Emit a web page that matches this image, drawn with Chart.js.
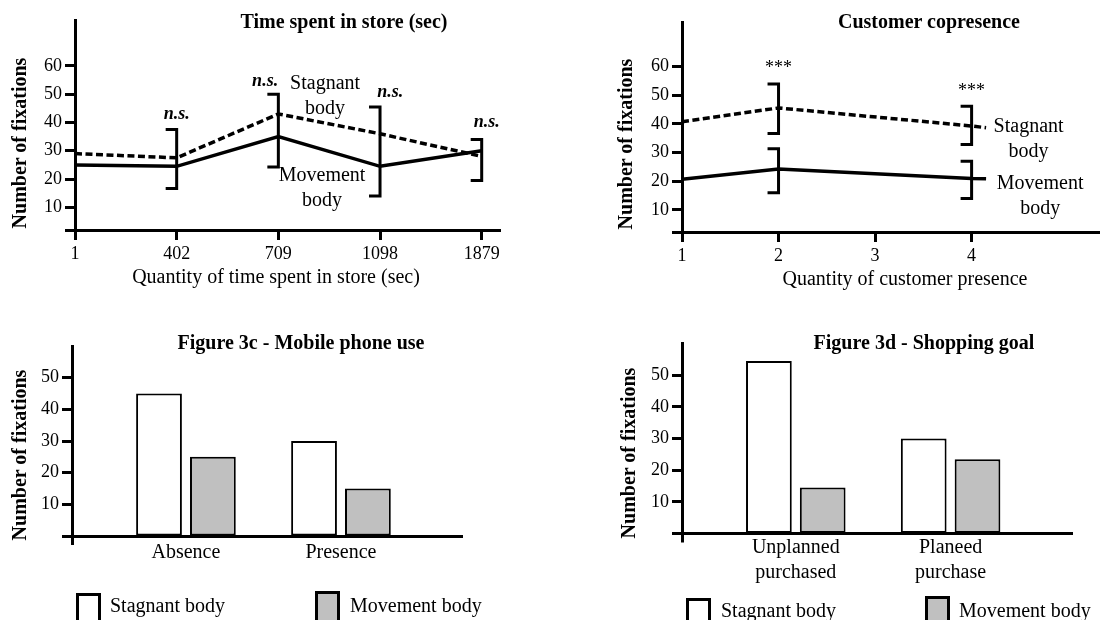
<!DOCTYPE html>
<html>
<head>
<meta charset="utf-8">
<title>Number of fixations</title>
<script src="https://cdn.jsdelivr.net/npm/chart.js@4.4.0/dist/chart.umd.min.js"></script>
<style>
  html, body { margin: 0; padding: 0; background: #fff; }
  body { width: 1100px; height: 620px; position: relative; overflow: hidden;
         font-family: "Liberation Serif", "Times New Roman", serif; color: #000; }
  canvas { position: absolute; }
  .txt { position: absolute; white-space: nowrap; line-height: 1; transform: translate(-50%, -50%); }
  .title { font-weight: bold; font-size: 20px; }
  .ytitle { font-weight: bold; font-size: 20px; transform: translate(-50%, -50%) rotate(-90deg); }
  .xtitle { font-size: 20px; }
  .key { position: absolute; width: 25px; height: 34px; box-sizing: border-box; border: 3px solid #000; }
  .keytxt { position: absolute; font-size: 20px; line-height: 24px; white-space: nowrap; }
</style>
</head>
<body>
<canvas id="timeChart" width="550" height="300" style="left:0;top:0"></canvas>
<canvas id="copresChart" width="550" height="300" style="left:550px;top:0"></canvas>
<canvas id="phoneChart" width="550" height="320" style="left:0;top:300px"></canvas>
<canvas id="goalChart" width="550" height="320" style="left:550px;top:300px"></canvas>

<!-- titles -->
<div class="txt title" style="left:344px;top:21px">Time spent in store (sec)</div>
<div class="txt title" style="left:929px;top:21px">Customer copresence</div>
<div class="txt title" style="left:301px;top:342px">Figure 3c - Mobile phone use</div>
<div class="txt title" style="left:924px;top:342px">Figure 3d - Shopping goal</div>

<!-- axis titles -->
<div class="txt ytitle" style="left:19px;top:143px">Number of fixations</div>
<div class="txt ytitle" style="left:625px;top:144px">Number of fixations</div>
<div class="txt ytitle" style="left:19px;top:455px">Number of fixations</div>
<div class="txt ytitle" style="left:628px;top:453px">Number of fixations</div>
<div class="txt xtitle" style="left:276px;top:276px">Quantity of time spent in store (sec)</div>
<div class="txt xtitle" style="left:905px;top:278px">Quantity of customer presence</div>

<!-- legends of the bar panels -->
<div class="key" style="left:76px;top:593px;background:#fff"></div>
<div class="keytxt" style="left:110px;top:593px">Stagnant body</div>
<div class="key" style="left:315px;top:591px;background:#c0c0c0"></div>
<div class="keytxt" style="left:350px;top:593px">Movement body</div>
<div class="key" style="left:686px;top:598px;background:#fff"></div>
<div class="keytxt" style="left:721px;top:598px">Stagnant body</div>
<div class="key" style="left:925px;top:596px;background:#c0c0c0"></div>
<div class="keytxt" style="left:959px;top:598px">Movement body</div>

<script>
// ---- data ----
const yTicksLine = [10, 20, 30, 40, 50, 60];
const yTicksBar = [10, 20, 30, 40, 50];

// time spent in store
const timeLabels = ['1', '402', '709', '1098', '1879'];
const timeStagnant = [29, 27.5, 43, 36, 28];
const timeMovement = [25, 24.5, 35, 24.5, 30];
const timeBrackets = [[1, 16.7, 37.5], [2, 24.3, 50], [3, 14, 45.5], [4, 19.5, 34]]; // [x, low, high]
const timeSig = [[1, 43, 'n.s.'], [1.87, 54.6, 'n.s.'], [3.1, 50.5, 'n.s.'], [4.05, 40, 'n.s.']];
const timeTags = [[2.46, 53.8, ['Stagnant', 'body']], [2.43, 21.1, ['Movement', 'body']]];

// customer copresence
const copresLabels = ['1', '2', '3', '4'];
const copresX = [1, 2, 4, 4.15];
const copresStagnant = [40.8, 45.6, 39.3, 38.7];
const copresMovement = [20.7, 24.3, 21.0, 20.9];
const copresBrackets = [[2, 36.7, 54], [2, 16, 31.4], [4, 32.8, 46.2], [4, 14, 27]];
const copresSig = [[2, 59.5, '***'], [4, 51.5, '***']];
const copresTags = [[4.59, 39.1, ['Stagnant', 'body']], [4.71, 19.3, ['Movement', 'body']]];

// mobile phone use
const phoneCats = ['Absence', 'Presence'];
const phoneStagnant = [45, 30];
const phoneMovement = [25, 15];

// shopping goal
const goalCats = [['Unplanned', 'purchased'], ['Planeed', 'purchase']];
const goalStagnant = [54.5, 30];
const goalMovement = [14.5, 23.5];

// ---- helpers ----
const black = '#000';
const grey = '#c0c0c0';
const clear = 'rgba(0,0,0,0)';
Chart.defaults.font.family = '"Liberation Serif", "Times New Roman", serif';
Chart.defaults.color = black;

const tickFont = { family: '"Liberation Serif"', size: 18 };

// y axis; the tick at "base" is left unlabeled so the x axis line sticks out left of the y axis
function valueAxis(min, max, base, ticks, width) {
  return {
    type: 'linear', min: min, max: max,
    afterBuildTicks: s => { s.ticks = [base].concat(ticks).map(v => ({ value: v })); },
    afterFit: s => { s.width = width; },
    ticks: { autoSkip: false, font: tickFont, color: black, padding: 3,
             callback: v => (v === base ? '' : String(v)) },
    grid: { drawOnChartArea: false, tickLength: 10, tickWidth: 3, tickColor: black },
    border: { color: black, width: 3 }
  };
}

// brackets, significance marks and the inline series names
const marks = {
  id: 'marks',
  afterDatasetsDraw(chart, args, opts) {
    const { ctx } = chart;
    const x = chart.scales.x, y = chart.scales.y;
    ctx.save();
    ctx.strokeStyle = black;
    ctx.lineWidth = 3;
    ctx.lineJoin = 'miter';
    (opts.brackets || []).forEach(([bx, lo, hi]) => {
      const px = x.getPixelForValue(bx);
      const top = y.getPixelForValue(hi), bot = y.getPixelForValue(lo);
      ctx.beginPath();
      ctx.moveTo(px - 11, top);
      ctx.lineTo(px, top);
      ctx.lineTo(px, bot);
      ctx.lineTo(px - 11, bot);
      ctx.stroke();
    });
    ctx.fillStyle = black;
    ctx.textAlign = 'center';
    ctx.textBaseline = 'middle';
    ctx.font = opts.sigFont;
    (opts.sig || []).forEach(([sx, sy, s]) => {
      ctx.fillText(s, x.getPixelForValue(sx), y.getPixelForValue(sy));
    });
    ctx.font = '20px "Liberation Serif"';
    (opts.tags || []).forEach(([tx, ty, lines]) => {
      lines.forEach((l, i) => ctx.fillText(l, x.getPixelForValue(tx), y.getPixelForValue(ty) + i * 25));
    });
    ctx.restore();
  }
};

const common = {
  responsive: false,
  animation: false,
  devicePixelRatio: 1,
  events: []
};

function lineSet(label, xs, ys, dashed) {
  return {
    label: label,
    data: ys.map((v, i) => ({ x: xs[i], y: v })),
    borderColor: black,
    borderWidth: 3.5,
    borderDash: dashed ? [7, 3.5] : [],
    pointRadius: 0,
    fill: false,
    tension: 0
  };
}

// the x axis also carries an unlabeled tick at its left end, which narrows the
// bar ruler to the distance from the y axis to the first group (~114px)
function barSet(label, ys, fillColor) {
  return {
    label: label,
    data: ys.map((v, i) => ({ x: i + 1, y: v })),
    backgroundColor: fillColor,
    borderColor: black,
    borderWidth: 2,
    borderSkipped: false,
    categoryPercentage: 0.9456,
    barPercentage: 0.85
  };
}

// ---- Time spent in store ----
new Chart(document.getElementById('timeChart'), {
  type: 'line',
  data: {
    datasets: [
      lineSet('Stagnant body', timeLabels.map((_, i) => i), timeStagnant, true),
      lineSet('Movement body', timeLabels.map((_, i) => i), timeMovement, false)
    ]
  },
  options: Object.assign({}, common, {
    layout: { padding: { left: 0, top: 20, right: 50, bottom: 0 } },
    scales: {
      x: {
        type: 'linear', min: 0, max: 4.18, offset: false,
        afterBuildTicks: s => { s.ticks = timeLabels.map((_, i) => ({ value: i })); },
        afterFit: s => { s.height = 70; },
        ticks: { autoSkip: false, maxRotation: 0, font: tickFont, color: black, padding: 3,
                 callback: (v, i) => timeLabels[i] },
        grid: { drawOnChartArea: false, tickLength: 10, tickWidth: 3, tickColor: black },
        border: { color: black, width: 3 }
      },
      y: valueAxis(2, 76.2, 2, yTicksLine, 75)
    },
    plugins: {
      legend: { display: false },
      tooltip: { enabled: false },
      marks: { brackets: timeBrackets, sig: timeSig, tags: timeTags,
               sigFont: 'italic bold 18px "Liberation Serif"' }
    }
  }),
  plugins: [marks]
});

// ---- Customer copresence ----
new Chart(document.getElementById('copresChart'), {
  type: 'line',
  data: {
    datasets: [
      lineSet('Stagnant body', copresX, copresStagnant, true),
      lineSet('Movement body', copresX, copresMovement, false)
    ]
  },
  options: Object.assign({}, common, {
    layout: { padding: { left: 0, top: 22, right: 0, bottom: 0 } },
    scales: {
      x: {
        type: 'linear', min: 1, max: 5.33, offset: false,
        afterBuildTicks: s => { s.ticks = copresLabels.map(l => ({ value: Number(l) })); },
        afterFit: s => { s.height = 68; },
        ticks: { autoSkip: false, maxRotation: 0, font: tickFont, color: black, padding: 3,
                 callback: (v, i) => copresLabels[i] },
        grid: { drawOnChartArea: false, tickLength: 10, tickWidth: 3, tickColor: black },
        border: { color: black, width: 3 }
      },
      y: valueAxis(2.3, 75.6, 2.3, yTicksLine, 132)
    },
    plugins: {
      legend: { display: false },
      tooltip: { enabled: false },
      marks: { brackets: copresBrackets, sig: copresSig, tags: copresTags,
               sigFont: '18px "Liberation Serif"' }
    }
  }),
  plugins: [marks]
});

// bar panels share the same x layout; only the first (unlabeled) tick gets a mark,
// which is the stub of the y axis below the x axis
function catAxis(cats, height, pad) {
  const min = 0.265;
  return {
    type: 'linear', min: min, max: 2.784, offset: false, z: 1,
    afterBuildTicks: s => { s.ticks = [min].concat(cats.map((_, i) => i + 1)).map(v => ({ value: v })); },
    afterFit: s => { s.height = height; },
    ticks: { autoSkip: false, maxRotation: 0, padding: pad, color: black,
             font: { family: '"Liberation Serif"', size: 20, lineHeight: 1.22 },
             callback: (v, i) => (i === 0 ? '' : cats[i - 1]) },
    grid: { drawOnChartArea: false, drawTicks: true, tickLength: 9, tickWidth: 3, offset: false,
            tickColor: c => (c.index === 0 ? black : clear) },
    border: { color: black, width: 3 }
  };
}

// ---- Mobile phone use ----
new Chart(document.getElementById('phoneChart'), {
  type: 'bar',
  data: {
    datasets: [
      barSet('Stagnant body', phoneStagnant, '#fff'),
      barSet('Movement body', phoneMovement, grey)
    ]
  },
  options: Object.assign({}, common, {
    layout: { padding: { left: 0, top: 46, right: 87.5, bottom: 0 } },
    scales: {
      x: catAxis(phoneCats, 84, -4),
      y: valueAxis(0, 60, 0, yTicksBar, 72)
    },
    plugins: { legend: { display: false }, tooltip: { enabled: false } }
  })
});

// ---- Shopping goal ----
new Chart(document.getElementById('goalChart'), {
  type: 'bar',
  data: {
    datasets: [
      barSet('Stagnant body', goalStagnant, '#fff'),
      barSet('Movement body', goalMovement, grey)
    ]
  },
  options: Object.assign({}, common, {
    layout: { padding: { left: 0, top: 43, right: 28, bottom: 0 } },
    scales: {
      x: catAxis(goalCats, 86.5, -6.5),
      y: valueAxis(0, 60.2, 0, yTicksBar, 132)
    },
    plugins: { legend: { display: false }, tooltip: { enabled: false } }
  })
});
</script>
</body>
</html>
